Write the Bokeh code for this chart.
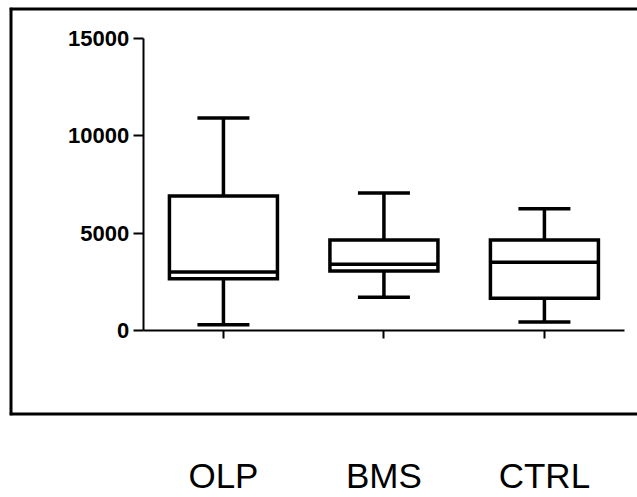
import numpy as np
from bokeh.plotting import figure
from bokeh.core.properties import value
from bokeh.models import Range1d, FixedTicker, LinearAxis, ColumnDataSource, Span
from bokeh.embed import file_html
from bokeh.resources import INLINE

categories = ["OLP", "BMS", "CTRL"]
whisker_low = [300, 1700, 430]
q1 = [2650, 3050, 1650]
median = [3000, 3400, 3500]
q3 = [6900, 4650, 4650]
whisker_high = [10900, 7050, 6250]
y_ticks = [0, 5000, 10000, 15000]

pos = [i + 1 for i in range(len(categories))]
box_w = 0.673
cap_w = 0.324
lw = 3.5

src = ColumnDataSource(dict(
    x=pos, lo=whisker_low, q1=q1, med=median, q3=q3, hi=whisker_high,
    xl=[x - box_w / 2 for x in pos], xr=[x + box_w / 2 for x in pos],
    cl=[x - cap_w / 2 for x in pos], cr=[x + cap_w / 2 for x in pos],
))

xr = Range1d(-0.333, 3.58)
yr = Range1d(-4362, 16575)
p = figure(width=637, height=497, output_backend="svg", toolbar_location=None,
           x_range=xr, y_range=yr,
           x_axis_type=None, y_axis_type=None,
           min_border_left=9, min_border_top=7, min_border_right=0, min_border_bottom=81)
p.grid.visible = False
p.outline_line_color = None
p.background_fill_color = "white"
p.border_fill_color = "white"

# outer frame (left, top, bottom; open on the right)
for loc, dim in [(xr.start, "height"), (yr.end, "width"), (yr.start, "width")]:
    p.add_layout(Span(location=loc, dimension=dim, line_color="black", line_width=6))

# whiskers
p.segment(x0="x", y0="q3", x1="x", y1="hi", source=src, line_color="black", line_width=lw)
p.segment(x0="x", y0="lo", x1="x", y1="q1", source=src, line_color="black", line_width=lw)
p.segment(x0="cl", y0="hi", x1="cr", y1="hi", source=src, line_color="black", line_width=lw)
p.segment(x0="cl", y0="lo", x1="cr", y1="lo", source=src, line_color="black", line_width=lw)
# boxes
p.vbar(x="x", width=box_w, top="q3", bottom="q1", source=src, fill_color="white",
       line_color="black", line_width=lw, line_join="miter")
p.segment(x0="xl", y0="med", x1="xr", y1="med", source=src, line_color="black", line_width=lw)

yaxis = LinearAxis(ticker=FixedTicker(ticks=y_ticks), fixed_location=0.5, bounds=(0, 15000))
yaxis.axis_line_width = 2
yaxis.major_tick_line_width = 2
yaxis.major_tick_out = 10
yaxis.major_tick_in = 0
yaxis.major_label_standoff = 4
yaxis.major_label_text_font = "Liberation Sans"
yaxis.major_label_text_font_style = "bold"
yaxis.major_label_text_font_size = "22px"
yaxis.major_label_text_color = "black"
p.add_layout(yaxis, "left")

xaxis = LinearAxis(ticker=FixedTicker(ticks=pos), fixed_location=0, bounds=(0.5, 3.5))
xaxis.axis_line_width = 2
xaxis.major_tick_line_width = 2
xaxis.major_tick_out = 8
xaxis.major_tick_in = 0
xaxis.major_label_text_color = None
p.add_layout(xaxis, "below")

# category labels below the frame
catax = LinearAxis(ticker=FixedTicker(ticks=pos),
                   major_label_overrides={x: c for x, c in zip(pos, categories)})
catax.axis_line_color = None
catax.major_tick_line_color = None
catax.major_tick_out = 0
catax.major_tick_in = 0
catax.major_label_standoff = 40
catax.major_label_text_line_height = 0.5
catax.major_label_text_font = "Liberation Sans"
catax.major_label_text_font_size = "35px"
catax.major_label_text_color = "black"
p.add_layout(catax, "below")

open("out.html", "w").write(file_html(p, INLINE))
